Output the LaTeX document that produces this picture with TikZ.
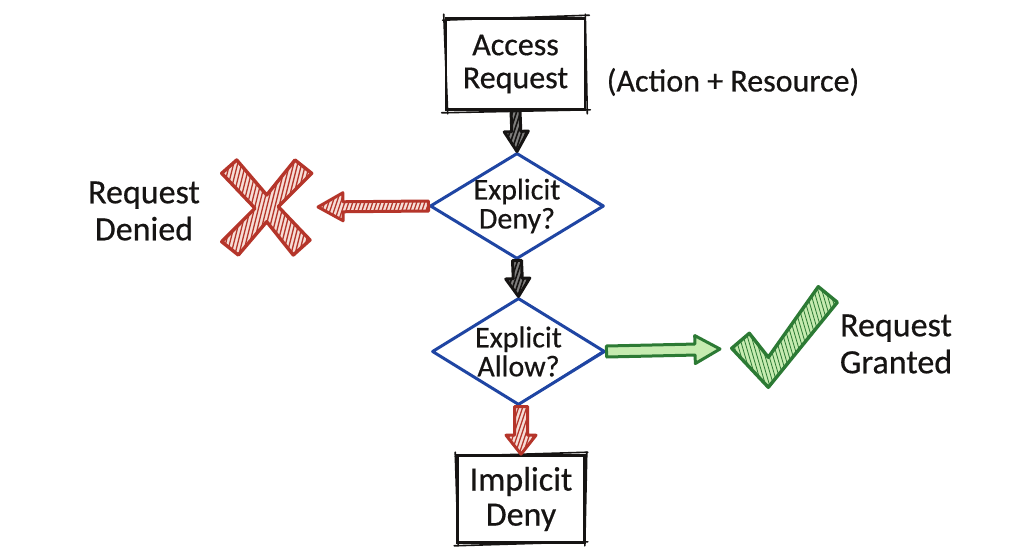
\documentclass[tikz,border=0pt]{standalone}
\usepackage{fontspec}
\setmainfont[FakeBold=0.5]{Carlito}
\usetikzlibrary{calc,shapes.geometric}
\definecolor{inkblack}{HTML}{161413}
\definecolor{inkblue}{HTML}{1F45A3}
\definecolor{inkred}{HTML}{B5352A}
\definecolor{inkgreen}{HTML}{2C7A34}
\definecolor{palegreen}{HTML}{C6EBB0}
\definecolor{palered}{HTML}{F6DDD6}
\tikzset{
  x=1pt,y=-1pt,
  boxnode/.style={draw=inkblack,line width=2.6pt,rectangle,inner sep=0pt,align=center,text=inkblack,font=\fontsize{32}{33}\selectfont},
  decision/.style={draw=inkblue,line width=3pt,line join=round,diamond,aspect=1.64,inner sep=-10pt,align=center,text=inkblack,font=\fontsize{30}{29}\selectfont},
  label/.style={align=center,text=inkblack,inner sep=0pt,font=\fontsize{34}{37}\selectfont},
  sketchblack/.style={draw=inkblack,line width=1.6pt,line cap=round},
  sketchblue/.style={draw=inkblue,line width=1.2pt,line cap=round},
  hatch/.style n args={3}{path picture={
    \foreach \i in {-170,-166,...,170}
      \draw[#1,line width=#3pt] ([xshift=\i pt,yshift=-120pt]path picture bounding box.center) -- ++(#2pt,240pt);
  }}
}
% block arrow: from, to, half shaft, head length, half head, colour, fill, hatch colour, hatch width
\newcommand{\blockarrow}[9]{%
  \coordinate (bh) at ($(#2)!#4pt!(#1)$);
  \path[fill=#7,hatch={#8}{80}{#9},draw=#6,line width=3pt,line join=round]
    ($(#1)!#3pt!90:(#2)$) -- ($(bh)!#3pt!90:(#2)$) -- ($(bh)!#5pt!90:(#2)$) -- (#2)
    -- ($(bh)!#5pt!-90:(#2)$) -- ($(bh)!#3pt!-90:(#2)$) -- ($(#1)!#3pt!-90:(#2)$) -- cycle;
}
\begin{document}
\begin{tikzpicture}
\useasboundingbox (0,0) rectangle (1024,559);
\fill[white] (0,0) rectangle (1024,559);

% nodes
\node[boxnode,minimum width=139pt,minimum height=91pt] (access) at (515.5,64) {Access\\Request};
\node[label,anchor=center,font=\fontsize{32}{36}\selectfont] (scope) at (733,82) {(Action + Resource)};
\node[decision,minimum width=174pt,minimum height=106pt] (deny) at (517,206) {Explicit\\Deny?};
\node[decision,minimum width=173pt,minimum height=107pt] (allow) at (518.5,351.5) {Explicit\\Allow?};
\node[boxnode,minimum width=127pt,minimum height=87pt,font=\fontsize{34}{35}\selectfont] (implicit) at (521,499) {Implicit\\Deny};
\node[label] (denied) at (144,211) {Request\\Denied};
\node[label] (granted) at (896,344) {Request\\Granted};
\coordinate (xtip) at (318,207);
\coordinate (checktip) at (720,349);
\coordinate (redstart) at ($(allow.south)+(2.5,0)$);

% second pencil strokes
\draw[sketchblack] ($(access.north west)+(-2,3)$) -- ($(access.north east)+(3,-2)$);
\draw[sketchblack] ($(access.north east)+(-1,-3)$) -- ($(access.south east)+(1,3)$);
\draw[sketchblack] ($(access.south east)+(4,-1)$) -- ($(access.south west)+(-3,2)$);
\draw[sketchblack] ($(access.south west)+(3,3)$) -- ($(access.north west)+(-1,-3)$);
\draw[sketchblack] ($(implicit.north west)+(-1,2)$) -- ($(implicit.north east)+(2,-2)$);
\draw[sketchblack] ($(implicit.north east)+(1,-2)$) -- ($(implicit.south east)+(-1,2)$);
\draw[sketchblack] ($(implicit.south east)+(2,-2)$) -- ($(implicit.south west)+(-2,2)$);
\draw[sketchblack] ($(implicit.south west)+(2,2)$) -- ($(implicit.north west)+(-1,-2)$);
\draw[sketchblue] ($(deny.north)+(2,3)$) -- ($(deny.east)+(-3,1)$) -- ($(deny.south)+(1,-3)$);
\draw[sketchblue] ($(deny.north)+(-2,3)$) -- ($(deny.west)+(3,-1)$);
\draw[sketchblue] ($(allow.north)+(2,3)$) -- ($(allow.east)+(-3,-1)$) -- ($(allow.south)+(1,-3)$);
\draw[sketchblue] ($(allow.north)+(-2,3)$) -- ($(allow.west)+(3,-1)$);

% connectors
\blockarrow{access.south}{deny.north}{4.5}{20}{12}{inkblack}{inkblack!55}{inkblack}{1.6}
\blockarrow{deny.south}{allow.north}{4.5}{18}{12}{inkblack}{inkblack!55}{inkblack}{1.6}
\blockarrow{redstart}{implicit.north}{6.5}{19}{15}{inkred}{palered}{inkred}{1.2}
\blockarrow{deny.west}{xtip}{5}{25}{14}{inkred}{palered}{inkred}{1.2}
\blockarrow{allow.east}{checktip}{5.5}{25}{14}{inkgreen}{palegreen}{palegreen}{.5}

% red cross
\path[fill=palered,hatch={inkred}{60}{1.3},draw=inkred,line width=3.4pt,line join=round]
  (236.7,160) -- (266.7,195) -- (295,160) -- (311.7,173.3) -- (278.3,206.7) -- (310,240)
  -- (293.3,255) -- (266.7,221.7) -- (238.3,255) -- (221.7,241.7) -- (255,208.3) -- (221.7,173.3) -- cycle;

% green check
\path[fill=palegreen,hatch={inkgreen}{-70}{.8},draw=inkgreen,line width=3.4pt,line join=round]
  (731.7,348.3) -- (749.3,333.3) -- (768.3,357.3) -- (818.3,286.7) -- (837.3,302.3) -- (768.3,387.3) -- cycle;
\end{tikzpicture}
\end{document}
